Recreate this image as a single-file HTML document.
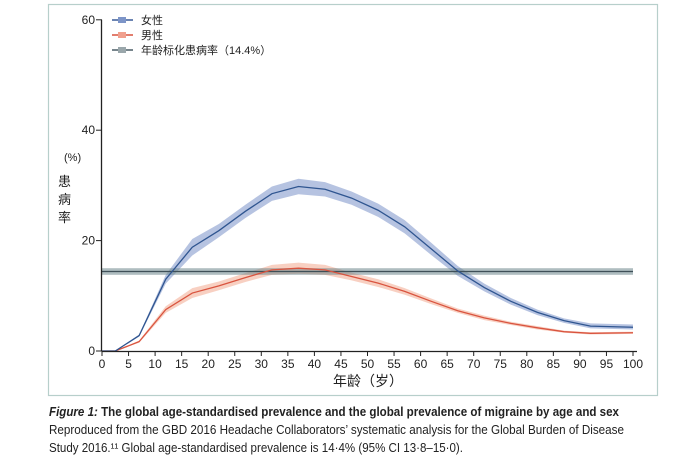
<!DOCTYPE html>
<html><head><meta charset="utf-8"><style>
body{margin:0;background:#fff;width:700px;height:458px;overflow:hidden}
svg{display:block}
text{font-family:"Liberation Sans","Noto Sans CJK SC",sans-serif}
</style></head><body>
<svg id="chart" width="700" height="458">
<rect x="48.5" y="4.5" width="609" height="391" fill="none" stroke="#b7cfcb" stroke-width="1.2"/>
<g id="plot"></g>
<g>
 <g><line x1="112" y1="20" x2="133" y2="20" stroke="#3a5c98" stroke-width="1.5"/><rect x="118" y="17" width="8" height="6" fill="#7d95c8"/><text x="141" y="24" font-size="11" fill="#222">女性</text></g>
 <g><line x1="112" y1="35" x2="133" y2="35" stroke="#d9543f" stroke-width="1.5"/><rect x="118" y="32" width="8" height="6" fill="#f0a08e"/><text x="141" y="39" font-size="11" fill="#222">男性</text></g>
 <g><line x1="112" y1="50" x2="133" y2="50" stroke="#4a5d66" stroke-width="1.5"/><rect x="118" y="47" width="8" height="6" fill="#9aa7ab"/><text x="141" y="54" font-size="11" fill="#222">年龄标化患病率（14.4%）</text></g>
</g>
<g font-size="13" fill="#222">
 <text x="64" y="161" font-size="11">(%)</text>
 <text x="58" y="186">患</text><text x="58" y="204">病</text><text x="58" y="222">率</text>
</g>
<text x="368" y="386" font-size="14" text-anchor="middle" fill="#222">年龄（岁）</text>
<g fill="#222" font-size="13">
 <text x="49" y="416" textLength="570" lengthAdjust="spacingAndGlyphs" font-weight="bold"><tspan font-style="italic">Figure 1:</tspan> The global age-standardised prevalence and the global prevalence of migraine by age and sex</text>
 <text x="49" y="434" textLength="575" lengthAdjust="spacingAndGlyphs">Reproduced from the GBD 2016 Headache Collaborators’ systematic analysis for the Global Burden of Disease</text>
 <text x="49" y="452" textLength="414" lengthAdjust="spacingAndGlyphs">Study 2016.¹¹ Global age-standardised prevalence is 14·4% (95% CI 13·8–15·0).</text>
</g>
</svg>
<script>
const ages=[2.5,7,12,17,22,27,32,37,42,47,52,57,62,67,72,77,82,87,92,100];
const female=[0,2.8,13,18.8,21.8,25.3,28.5,29.8,29.3,27.7,25.5,22.5,18.5,14.5,11.5,9,7,5.5,4.5,4.3];
const femaleLow=[0,2.6,12.2,17.3,20.6,24.1,27.2,28.4,28.0,26.5,24.3,21.3,17.4,13.6,10.8,8.4,6.5,5.1,4.1,3.9];
const femaleHigh=[0,3.0,13.8,20.3,23.0,26.5,29.8,31.2,30.6,28.9,26.7,23.7,19.6,15.4,12.2,9.6,7.5,5.9,5.0,4.8];
const male=[0,1.7,7.5,10.5,11.8,13.3,14.7,15,14.7,13.5,12.3,10.8,9,7.3,6,5,4.2,3.5,3.2,3.3];
const maleLow=[0,1.5,6.9,9.6,11.0,12.5,13.8,14.0,13.8,12.8,11.6,10.2,8.5,6.9,5.6,4.7,3.9,3.3,3.0,3.1];
const maleHigh=[0,1.9,8.1,11.4,12.6,14.1,15.6,16.0,15.6,14.2,13.0,11.4,9.5,7.7,6.4,5.3,4.5,3.7,3.4,3.5];
const globalValue=[14.4];
const globalCI=[13.8,15.0];
const xTicks=[0,5,10,15,20,25,30,35,40,45,50,55,60,65,70,75,80,85,90,95,100];
const yTicks=[0,20,40,60];
const X=v=>102+v*5.31, Y=v=>351-v*5.52;
const NS="http://www.w3.org/2000/svg", g=document.getElementById('plot');
function mk(t,a){const e=document.createElementNS(NS,t);for(const k in a)e.setAttribute(k,a[k]);g.appendChild(e);return e;}
function band(lo,hi,fill,name){let d='M'+ages.map((a,i)=>X(a)+','+Y(hi[i])).join('L');for(let i=ages.length-1;i>=0;i--)d+='L'+X(ages[i])+','+Y(lo[i]);const e=mk('path',{d:d+'Z',fill:fill});

}
function line(v,stroke,name){const pts=[[X(0),Y(0)]].concat(ages.map((a,i)=>[X(a),Y(v[i])]));const e=mk('polyline',{points:pts.map(p=>p.join(',')).join(' '),fill:'none',stroke:stroke,'stroke-width':1.3});

}
band(maleLow,maleHigh,'rgba(240,150,120,0.45)');
band(femaleLow,femaleHigh,'rgba(110,135,195,0.5)','female-ci-band');

const gb=mk('rect',{x:X(0),y:Y(globalCI[1]),width:X(100)-X(0),height:Y(globalCI[0])-Y(globalCI[1]),fill:'rgba(110,135,140,0.55)'});


const gl=mk('line',{x1:X(0),x2:X(100),y1:Y(globalValue[0]),y2:Y(globalValue[0]),stroke:'#3f5058','stroke-width':1.2});


line(male,'#d9543f','male-line');
line(female,'#2f5590','female-line');
const xa=mk('line',{x1:X(0),x2:X(100)+4,y1:351.5,y2:351.5,stroke:'#222','stroke-width':1.3});


const ya=mk('line',{x1:101.5,x2:101.5,y1:Y(60),y2:351.5,stroke:'#222','stroke-width':1.3});


xTicks.forEach(t=>{mk('line',{x1:X(t),x2:X(t),y1:351,y2:356,stroke:'#222'});
const tx=mk('text',{x:X(t),y:368,'font-size':12,'text-anchor':'middle',fill:'#222'});tx.textContent=t;

});
yTicks.forEach(t=>{mk('line',{x1:96,x2:102,y1:Y(t),y2:Y(t),stroke:'#222'});
const tx=mk('text',{x:95,y:Y(t)+4,'font-size':12,'text-anchor':'end',fill:'#222'});tx.textContent=t;

});
</script>
</body></html>
